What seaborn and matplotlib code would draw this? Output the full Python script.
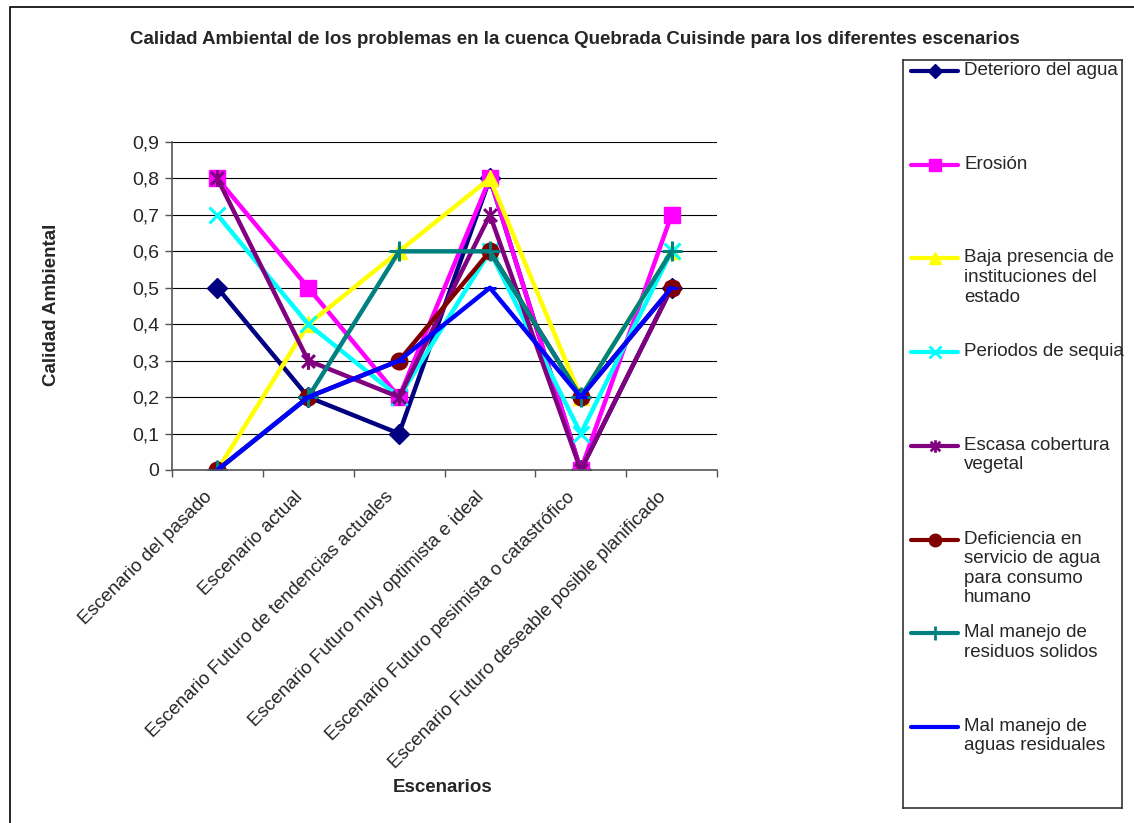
import numpy as np
import pandas as pd
import matplotlib
matplotlib.use('Agg')
import matplotlib.pyplot as plt
import seaborn as sns
from matplotlib.path import Path
from matplotlib.patches import Rectangle

escenarios = ['Escenario del pasado', 'Escenario actual',
              'Escenario Futuro de tendencias actuales',
              'Escenario Futuro muy optimista e ideal',
              'Escenario Futuro pesimista o catastrófico',
              'Escenario Futuro deseable posible planificado']

deterioro_agua = [0.5, 0.2, 0.1, 0.8, 0.0, 0.5]
erosion = [0.8, 0.5, 0.2, 0.8, 0.0, 0.7]
baja_presencia = [0.0, 0.4, 0.6, 0.8, 0.2, 0.6]
periodos_sequia = [0.7, 0.4, 0.2, 0.6, 0.1, 0.6]
escasa_cobertura = [0.8, 0.3, 0.2, 0.7, 0.0, 0.5]
deficiencia_agua = [0.0, 0.2, 0.3, 0.6, 0.2, 0.5]
residuos_solidos = [0.0, 0.2, 0.6, 0.6, 0.2, 0.6]
aguas_residuales = [0.0, 0.2, 0.3, 0.5, 0.2, 0.5]

nombres = ['Deterioro del agua', 'Erosión',
           'Baja presencia de\ninstituciones del\nestado',
           'Periodos de sequia', 'Escasa cobertura\nvegetal',
           'Deficiencia en\nservicio de agua\npara consumo\nhumano',
           'Mal manejo de\nresiduos solidos',
           'Mal manejo de\naguas residuales']
series = [deterioro_agua, erosion, baja_presencia, periodos_sequia,
          escasa_cobertura, deficiencia_agua, residuos_solidos, aguas_residuales]
colores = ['#000080', '#FF00FF', '#FFFF00', '#00FFFF',
           '#800080', '#800000', '#008080', '#0000FF']

# asterisco estilo excel (x con linea vertical)
asterisco = Path([(-1, -1), (1, 1), (-1, 1), (1, -1), (0, -1.3), (0, 1.3)],
                 [Path.MOVETO, Path.LINETO, Path.MOVETO, Path.LINETO, Path.MOVETO, Path.LINETO])
marcadores = ['D', 's', '^', 'x', asterisco, 'o', '+', '_']
tam = [10, 11, 12, 12, 12, 12, 14, 9]
relleno = [True, True, True, False, False, True, False, False]

sns.set_theme(style='white')
plt.rcParams['font.family'] = ['Liberation Sans', 'DejaVu Sans']

W, H = 1134, 823
fig = plt.figure(figsize=(W / 100, H / 100), dpi=100)
fig.patches.append(Rectangle((10 / W, -0.2), 1.5, 1.2 - 7 / H, transform=fig.transFigure,
                             fill=False, edgecolor='black', lw=1.2, clip_on=False))

ax = fig.add_axes([172 / W, 1 - 470 / H, (717 - 172) / W, (470 - 142) / H])
x = np.arange(len(escenarios))
for vals, nom, col, mk, ms, fill in zip(series, nombres, colores, marcadores, tam, relleno):
    df = pd.DataFrame({'x': x, 'y': vals})
    sns.lineplot(data=df, x='x', y='y', ax=ax, color=col, lw=3.2, marker=mk, ms=ms,
                 mec=col, mfc=col if fill else 'none', mew=1 if fill else 2.2,
                 legend=False)

ax.set_xlim(-0.5, len(escenarios) - 0.5)
ax.set_ylim(0, 0.9)
ax.set_yticks(np.arange(0, 0.91, 0.1))
ax.set_yticklabels(['0' if v == 0 else f'{v:.1f}'.replace('.', ',') for v in np.arange(0, 0.91, 0.1)],
                   fontsize=14)
ax.yaxis.grid(True, color='black', lw=0.8)
ax.set_axisbelow(True)
ax.set_xticks(np.arange(-0.5, len(escenarios)), labels=[])
# etiquetas de categoria giradas 45 grados, un poco a la izquierda del centro
for i, esc in enumerate(escenarios):
    ax.annotate(esc, xy=(i, 0), xycoords=('data', 'axes fraction'),
                xytext=(-5.8, -17.6), textcoords='offset points',
                rotation=45, ha='right', va='center', rotation_mode='anchor',
                fontsize=13.6, annotation_clip=False)
ax.tick_params(axis='x', which='major', length=5, width=1, color='#555555', direction='out', bottom=True)
ax.tick_params(axis='y', length=5, width=1, color='#555555', direction='out', left=True, pad=4)
for s in ['top', 'right']:
    ax.spines[s].set_visible(False)
for s in ['left', 'bottom']:
    ax.spines[s].set_color('#555555')
    ax.spines[s].set_linewidth(1.2)
ax.set_xlabel('')
ax.set_ylabel('')

fig.text(575 / W, 1 - 40 / H,
         'Calidad Ambiental de los problemas en la cuenca Quebrada Cuisinde para los diferentes escenarios',
         ha='center', va='center', fontsize=13.5, fontweight='bold')
fig.text(443 / W, 1 - 788 / H, 'Escenarios', ha='center', va='center',
         fontsize=13.5, fontweight='bold')
fig.text(52 / W, 1 - 305 / H, 'Calidad Ambiental', ha='center', va='center',
         rotation=90, fontsize=13.5, fontweight='bold')

# leyenda dibujada a mano para repetir los huecos fijos de excel
lax = fig.add_axes([903 / W, 1 - 808 / H, (1122 - 903) / W, (808 - 60) / H])
lax.set_xlim(903, 1122)
lax.set_ylim(808, 60)
lax.set_xticks([])
lax.set_yticks([])
for s in lax.spines.values():
    s.set_color('#333333')
    s.set_linewidth(1.2)
for i, (nom, col, mk, ms, fill) in enumerate(zip(nombres, colores, marcadores, tam, relleno)):
    yy = 71 + 93.7 * i
    lax.plot([911, 934.5, 958], [yy, yy, yy], color=col, lw=3, marker=mk, markevery=[1],
             ms=ms * 0.75, mec=col, mfc=col if fill else 'none', mew=1 if fill else 2)
    lax.text(964, yy - 9, nom, ha='left', va='top', fontsize=13.5, linespacing=1.2)

fig.savefig('out.png', dpi=100)
